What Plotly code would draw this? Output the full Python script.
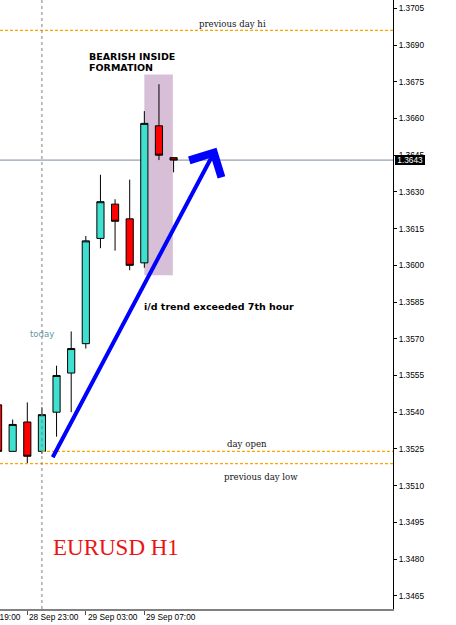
import plotly.graph_objects as go
import pandas as pd

# ---- data ----
times = ['2010-09-28 21:00', '2010-09-28 22:00', '2010-09-28 23:00', '2010-09-29 00:00',
         '2010-09-29 01:00', '2010-09-29 02:00', '2010-09-29 03:00', '2010-09-29 04:00',
         '2010-09-29 05:00', '2010-09-29 06:00', '2010-09-29 07:00', '2010-09-29 08:00',
         '2010-09-29 09:00']
opens  = [1.3543, 1.3524, 1.3536, 1.3524, 1.3540, 1.3556, 1.3568, 1.3611, 1.3625, 1.3619, 1.3601, 1.3657, 1.3644]
highs  = [1.3545, 1.3537, 1.3544, 1.3542, 1.3559, 1.3573, 1.3612, 1.3637, 1.3627, 1.3635, 1.3663, 1.3674, 1.3644]
lows   = [1.3522, 1.3524, 1.3519, 1.3523, 1.3530, 1.3540, 1.3566, 1.3607, 1.3606, 1.3598, 1.3599, 1.3643, 1.3638]
closes = [1.3524, 1.3535, 1.3522, 1.3539, 1.3555, 1.3566, 1.3610, 1.3626, 1.3618, 1.3600, 1.3658, 1.3645, 1.3643]

prev_day_hi = 1.3696
day_open = 1.3524
prev_day_low = 1.3519
current_price = 1.3643
today_start = '2010-09-29 00:00'

inside_box_time = ['2010-09-29 07:00', '2010-09-29 08:57']
inside_box_price = [1.3596, 1.3678]

trend_arrow_time = ['2010-09-29 00:41', '2010-09-29 11:56']
trend_arrow_price = [1.3521, 1.3648]

x_range = ['2010-09-28 21:08', '2010-09-30 00:00']
y_range = [1.34596, 1.37084]

y_ticks = [1.3465, 1.3480, 1.3495, 1.3510, 1.3525, 1.3540, 1.3555, 1.3570, 1.3585,
           1.3600, 1.3615, 1.3630, 1.3645, 1.3660, 1.3675, 1.3690, 1.3705]
x_tick_times = ['2010-09-28 19:00', '2010-09-28 23:00', '2010-09-29 03:00', '2010-09-29 07:00']
x_tick_labels = ['28 Sep 19:00', '28 Sep 23:00', '29 Sep 03:00', '29 Sep 07:00']

W, H = 456, 625
MARGIN = dict(l=0, r=63, t=0, b=16, pad=0)
PLOT_W = W - MARGIN['l'] - MARGIN['r']

AXFONT = dict(family='Liberation Sans', size=8.3, color='black')
LVLFONT = dict(family='DejaVu Serif', size=8.6, color='#141420')
BOLDFONT = dict(family='DejaVu Sans', size=9.5, color='black', weight='bold')

fig = go.Figure()
fig.add_trace(go.Candlestick(
    x=times, open=opens, high=highs, low=lows, close=closes,
    increasing=dict(fillcolor='rgb(64,224,208)', line=dict(color='black', width=1)),
    decreasing=dict(fillcolor='rgb(255,0,0)', line=dict(color='black', width=1)),
    whiskerwidth=0, hoverinfo='skip', showlegend=False,
))

shapes = []
shapes.append(dict(type='rect', xref='x', yref='y', x0=inside_box_time[0], x1=inside_box_time[1],
                   y0=inside_box_price[0], y1=inside_box_price[1],
                   fillcolor='rgb(216,191,216)', line=dict(width=0), layer='below'))
shapes.append(dict(type='line', xref='paper', yref='y', x0=0, x1=1, y0=current_price, y1=current_price,
                   line=dict(color='rgb(119,136,153)', width=1), layer='below'))
for lvl, x0 in [(prev_day_hi, x_range[0]), (day_open, today_start), (prev_day_low, x_range[0])]:
    shapes.append(dict(type='line', xref='x', yref='y', x0=x0, x1=x_range[1], y0=lvl, y1=lvl,
                       line=dict(color='rgb(255,165,0)', width=1.2, dash='3px,2px'), layer='above'))
shapes.append(dict(type='line', xref='x', yref='paper', x0=today_start, x1=today_start, y0=0, y1=1,
                   line=dict(color='rgb(128,128,128)', width=1, dash='3px,3px'), layer='above'))

annotations = []
annotations.append(dict(x=trend_arrow_time[1], y=trend_arrow_price[1], xref='x', yref='y',
                        ax=trend_arrow_time[0], ay=trend_arrow_price[0], axref='x', ayref='y',
                        text='', showarrow=True, arrowhead=4, arrowwidth=4, arrowsize=1.75,
                        arrowcolor='rgb(0,0,255)', standoff=0, startstandoff=0))
annotations.append(dict(x='2010-09-29 03:14', y=1.36854, xref='x', yref='y', text='BEARISH INSIDE',
                        showarrow=False, xanchor='left', yanchor='middle', font=BOLDFONT,
                        borderpad=0, borderwidth=0))
annotations.append(dict(x='2010-09-29 03:14', y=1.36809, xref='x', yref='y', text='FORMATION',
                        showarrow=False, xanchor='left', yanchor='middle', font=BOLDFONT,
                        borderpad=0, borderwidth=0))
annotations.append(dict(x='2010-09-29 07:00', y=1.3583, xref='x', yref='y', text='i/d trend exceeded 7th hour',
                        showarrow=False, xanchor='left', yanchor='middle', font=BOLDFONT,
                        borderpad=0, borderwidth=0))
annotations.append(dict(x=today_start, y=1.3572, xref='x', yref='y', text='today', showarrow=False,
                        xanchor='center', yanchor='middle',
                        font=dict(family='DejaVu Sans', size=8.5, color='rgb(95,150,160)'),
                        borderpad=0, borderwidth=0))
annotations.append(dict(x=0.2952, y=0.1006, xref='paper', yref='paper', text='EURUSD H1', showarrow=False,
                        xanchor='center', yanchor='middle',
                        font=dict(family='Liberation Serif', size=23, color='rgb(235,20,20)'),
                        borderpad=0, borderwidth=0))
annotations.append(dict(x='2010-09-29 13:00', y=prev_day_hi, xref='x', yref='y', text='previous day hi',
                        showarrow=False, xanchor='center', yanchor='middle', yshift=6.5, font=LVLFONT,
                        borderpad=0, borderwidth=0))
annotations.append(dict(x='2010-09-29 14:00', y=day_open, xref='x', yref='y', text='day open',
                        showarrow=False, xanchor='center', yanchor='middle', yshift=7.5, font=LVLFONT,
                        borderpad=0, borderwidth=0))
annotations.append(dict(x='2010-09-29 15:00', y=prev_day_low, xref='x', yref='y', text='previous day low',
                        showarrow=False, xanchor='center', yanchor='middle', yshift=-13.5, font=LVLFONT,
                        borderpad=0, borderwidth=0))
annotations.append(dict(x=1, y=current_price, xref='paper', yref='y', text=' %.4f ' % current_price,
                        showarrow=False, xanchor='left', yanchor='middle', xshift=2,
                        bgcolor='black', font=dict(family='Liberation Sans', size=8.3, color='white'),
                        borderpad=0, borderwidth=0))

# x tick labels, left-aligned after each tick; a tick left of the view is anchored at the
# left edge and shifted by its distance on the time scale so its label is cut off like in MT4
r0, r1 = pd.Timestamp(x_range[0]), pd.Timestamp(x_range[1])
px_per_sec = PLOT_W / (r1 - r0).total_seconds()
for t, lab in zip(x_tick_times, x_tick_labels):
    ts = pd.Timestamp(t)
    if ts < r0:
        xpos, shift = x_range[0], -(r0 - ts).total_seconds() * px_per_sec
    else:
        xpos, shift = t, 0
    annotations.append(dict(x=xpos, y=0, xref='x', yref='paper',
                            text=lab, showarrow=False, xanchor='left', yanchor='top',
                            xshift=2 + shift, yshift=-3, font=AXFONT, borderpad=0, borderwidth=0))

fig.update_layout(
    width=W, height=H,
    margin=MARGIN,
    paper_bgcolor='white', plot_bgcolor='white',
    showlegend=False, hovermode=False,
    shapes=shapes, annotations=annotations,
    xaxis=dict(type='date', range=x_range, rangeslider=dict(visible=False),
               showgrid=False, zeroline=False, showline=True, linecolor='rgb(128,128,128)', linewidth=2,
               tickmode='array', tickvals=x_tick_times, showticklabels=False,
               ticks='outside', ticklen=4, tickcolor='rgb(80,80,80)', tickwidth=1),
    yaxis=dict(range=y_range, side='right', showgrid=False, zeroline=False,
               showline=True, linecolor='black', linewidth=1,
               tickmode='array', tickvals=y_ticks, tickformat='.4f',
               ticks='outside', ticklen=3, tickcolor='black', tickfont=AXFONT),
)

fig.write_html('out.html')
